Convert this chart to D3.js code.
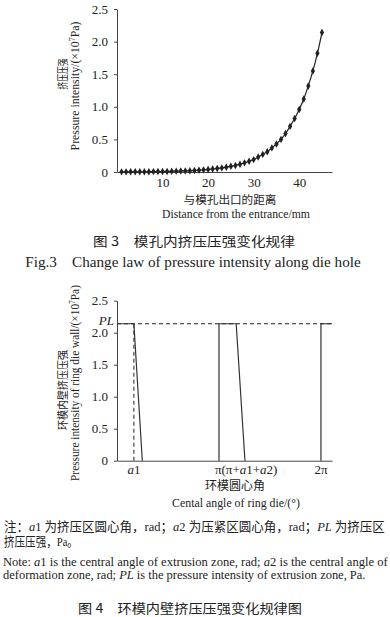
<!DOCTYPE html>
<html><head><meta charset="utf-8">
<script src="https://cdn.jsdelivr.net/npm/d3@7"></script>
<style>
html,body{margin:0;padding:0;background:#fff;}
svg{display:block;}
text{font-family:"Liberation Serif","Noto Sans CJK SC",serif;fill:#222;}
.cjk{font-family:"Noto Sans CJK SC",sans-serif;}
</style></head>
<body>
<svg id="c" width="390" height="617"></svg>
<script>
// ---------- Data: Fig.3 ----------
const distance = [1,2,3,4,5,6,7,8,9,10,11,12,13,14,15,16,17,18,19,20,21,22,23,24,25,26,27,28,29,30,31,32,33,34,35,36,37,38,39,40,41,42,43,44,45];
const pressure = [0.002,0.002,0.0025,0.003,0.0035,0.004,0.005,0.006,0.007,0.008,0.009,0.011,0.013,0.015,0.017,0.020,0.024,0.028,0.033,0.039,0.046,0.054,0.063,0.074,0.087,0.10,0.12,0.14,0.165,0.19,0.23,0.27,0.31,0.37,0.43,0.50,0.59,0.70,0.82,0.96,1.12,1.32,1.55,1.82,2.14];
const xTicks1 = [10,20,30,40];
const yTicks = [0,0.5,1.0,1.5,2.0,2.5];
const yTickLabels = ["0","0.5","1.0","1.5","2.0","2.5"];

// ---------- Data: Fig.4 ----------
const PL = 2.14;
const a1 = 0.52;
const seg1Angles = [0, 0.52, 0.78];
const seg1Values = [2.14, 2.14, 0];
const seg2Angles = [Math.PI, Math.PI, Math.PI + 0.53, Math.PI + 0.80];
const seg2Values = [0, 2.14, 2.14, 0];
const seg3Angles = [2*Math.PI, 2*Math.PI, 2*Math.PI + 0.34];
const seg3Values = [0, 2.14, 2.14];
const angleTicks = [a1, Math.PI, 2*Math.PI];
const angleMax = 2*Math.PI + 0.34;

const svg = d3.select("#c");
const ink = "#222";

// place a text at (x,y), optionally rotated, horizontally scaled to width w
function fit(sel, x, y, w, rot) {
  sel.attr("x",0).attr("y",0);
  const bw = sel.node().getComputedTextLength();
  const s = w ? w / bw : 1;
  sel.attr("transform", `translate(${x},${y})` + (rot ? ` rotate(${rot})` : "") + ` scale(${s},1)`);
  return sel;
}
function rich(parent, parts, cls) {
  const t = parent.append("text");
  if (cls) t.attr("class", cls);
  parts.forEach(p => {
    const ts = t.append("tspan").text(p[0]);
    if (p[1] === "i") ts.attr("font-style","italic");
    if (p[1] === "sup") ts.attr("font-size",8).attr("dy",-4);
    if (p[1] === "after") ts.attr("dy",4);
  });
  return t;
}

// ================= Chart 1 =================
const x1 = d3.scaleLinear().domain([0, 47.2]).range([117, 332]);
const y1 = d3.scaleLinear().domain([0, 2.5]).range([172, 9]);
const g1 = svg.append("g");

g1.append("g").attr("transform","translate(117,0)")
  .call(d3.axisLeft(y1).tickValues(yTicks).tickFormat((d,i)=>yTickLabels[i]).tickSize(3).tickSizeOuter(0))
  .call(g=>{g.select(".domain").attr("stroke","#444");
    g.selectAll("line").attr("stroke","#444");
    g.selectAll("text").attr("font-size",13).attr("fill",ink).attr("x",-9).attr("font-family","Liberation Serif");});
g1.append("g").attr("transform","translate(0,172)")
  .call(d3.axisBottom(x1).tickValues(xTicks1).tickSize(0).tickSizeOuter(0).tickPadding(6))
  .call(g=>{g.select(".domain").attr("stroke","#444");
    g.selectAll("text").attr("font-size",13).attr("fill",ink).attr("font-family","Liberation Serif");});

const pts = distance.map((d,i)=>[d, pressure[i]]);
g1.append("path").datum(pts)
  .attr("fill","none").attr("stroke",ink).attr("stroke-width",1.2)
  .attr("d", d3.line().x(d=>x1(d[0])).y(d=>y1(d[1])).curve(d3.curveMonotoneX));
g1.selectAll(".m").data(pts).enter().append("path")
  .attr("transform",d=>`translate(${x1(d[0])},${y1(d[1])})`)
  .attr("d", d3.symbol().type(d3.symbolDiamond).size(16))
  .attr("fill",ink);

// axis titles chart 1
fit(g1.append("text").attr("class","cjk").attr("text-anchor","middle").attr("font-size",11).text("挤压压强"), 67, 74, 31, -90);
fit(rich(g1, [["Pressure intensity/(×10"],["7","sup"],["Pa)","after"]]).attr("text-anchor","middle").attr("font-size",12), 79, 86, 129, -90);
fit(g1.append("text").attr("class","cjk").attr("text-anchor","middle").attr("font-size",11).text("与模孔出口的距离"), 230, 204, 93);
fit(g1.append("text").attr("text-anchor","middle").attr("font-size",13).text("Distance from the entrance/mm"), 236, 218, 148);

// captions fig 3
fit(svg.append("text").attr("class","cjk").attr("text-anchor","middle").attr("font-size",13).text("图 3\u2003模孔内挤压压强变化规律"), 194, 246, 202);
fit(svg.append("text").attr("text-anchor","middle").attr("font-size",15).text("Fig.3\u2003Change law of pressure intensity along die hole"), 193, 267, 336);

// ================= Chart 2 =================
const x2 = d3.scaleLinear().domain([0, angleMax]).range([117, 332]);
const y2 = d3.scaleLinear().domain([0, 2.5]).range([460.7, 300.7]);
const g2 = svg.append("g");

g2.append("g").attr("transform","translate(117,0)")
  .call(d3.axisLeft(y2).tickValues(yTicks).tickFormat((d,i)=>yTickLabels[i]).tickSize(3).tickSizeOuter(0))
  .call(g=>{g.select(".domain").attr("stroke","#444");
    g.selectAll("line").attr("stroke","#444");
    g.selectAll("text").attr("font-size",13).attr("fill",ink).attr("x",-9).attr("font-family","Liberation Serif");});
g2.append("g").attr("transform","translate(0,460.7)")
  .call(d3.axisBottom(x2).tickValues([]).tickSizeOuter(0))
  .call(g=>g.select(".domain").attr("stroke","#444"));

// dashed lines
g2.append("line").attr("x1",x2(0)).attr("x2",x2(angleMax)).attr("y1",y2(PL)).attr("y2",y2(PL))
  .attr("stroke",ink).attr("stroke-dasharray","4,3").attr("stroke-width",1);
g2.append("line").attr("x1",x2(a1)).attr("x2",x2(a1)).attr("y1",y2(PL)).attr("y2",y2(0))
  .attr("stroke",ink).attr("stroke-dasharray","4,3").attr("stroke-width",1);

const line2 = d3.line().x(d=>x2(d[0])).y(d=>y2(d[1]));
[[seg1Angles,seg1Values],[seg2Angles,seg2Values],[seg3Angles,seg3Values]].forEach(([a,v])=>{
  g2.append("path").datum(a.map((d,i)=>[d,v[i]]))
    .attr("fill","none").attr("stroke","#333").attr("stroke-width",1.2).attr("d",line2);
});

// PL label
g2.append("text").attr("x",114).attr("y",y2(PL)+1).attr("text-anchor","end")
  .attr("font-size",13).attr("font-style","italic").text("PL");

// x tick labels
const tl = g2.append("g").attr("font-size",13);
rich(tl, [["a","i"],["1"]]).attr("x",x2(angleTicks[0])).attr("y",474).attr("text-anchor","middle");
rich(tl, [["π(π+"],["a","i"],["1+"],["a","i"],["2)"]]).attr("x",x2(angleTicks[1])-4).attr("y",474).attr("text-anchor","start");
tl.append("text").attr("x",x2(angleTicks[2])).attr("y",474).attr("text-anchor","middle").text("2π");

// axis titles chart 2
fit(g2.append("text").attr("class","cjk").attr("text-anchor","middle").attr("font-size",11).text("环模内壁挤压压强"), 67, 390, 80, -90);
fit(rich(g2, [["Pressure intensity of ring die wall/(×10"],["7","sup"],["Pa)","after"]]).attr("text-anchor","middle").attr("font-size",12), 79, 383, 196, -90);
fit(g2.append("text").attr("class","cjk").attr("text-anchor","middle").attr("font-size",12).text("环模圆心角"), 235, 490, 60);
fit(g2.append("text").attr("text-anchor","middle").attr("font-size",13).text("Cental angle of ring die/(°)"), 236, 507, 128);

// notes
const notes = svg.append("g").attr("font-size",13);
fit(rich(notes, [["注："],["a","i"],["1 为挤压区圆心角，rad；"],["a","i"],["2 为压紧区圆心角，rad；"],["PL","i"],[" 为挤压区"]]), 4, 531, 381);
fit(notes.append("text").text("挤压压强，Pa。"), 4, 546, 74);
fit(rich(notes, [["Note: "],["a","i"],["1 is the central angle of extrusion zone, rad; "],["a","i"],["2 is the central angle of"]]), 3, 566, 385);
fit(rich(notes, [["deformation zone, rad; "],["PL","i"],[" is the pressure intensity of extrusion zone, Pa."]]), 3, 579, 363);

fit(svg.append("text").attr("class","cjk").attr("text-anchor","middle").attr("font-size",13).text("图 4\u2003环模内壁挤压压强变化规律图"), 190, 613, 224);
</script>
</body></html>
